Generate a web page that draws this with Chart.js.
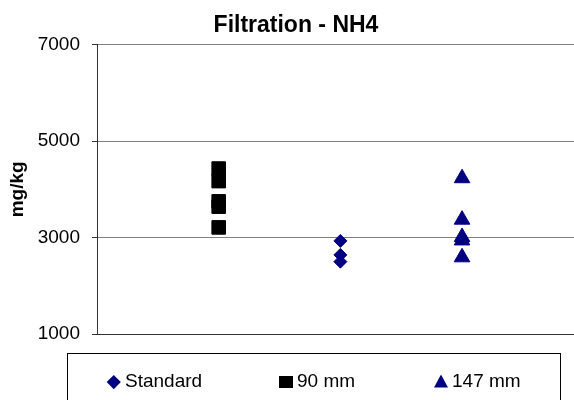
<!DOCTYPE html>
<html>
<head>
<meta charset="utf-8">
<script src="https://cdn.jsdelivr.net/npm/chart.js@4/dist/chart.umd.min.js"></script>
<style>
  body { margin: 0; background: #fff; }
  #wrap { position: relative; width: 574px; height: 400px; overflow: hidden; background: #fff; }
  #chart { position: absolute; left: 0; top: 0; }
  #legend {
    position: absolute; left: 67px; top: 353px; width: 494px; height: 80px;
    border: 1px solid #000; box-sizing: border-box;
    font-family: "Liberation Sans", Arial, sans-serif; font-size: 19px; color: #000;
  }
  .item { position: absolute; top: 16px; line-height: 22px; white-space: nowrap; }
  .mk { position: absolute; display: block; }
  .mk.diamond { width: 9.5px; height: 9.5px; transform: rotate(45deg); left: -16.5px; top: 6.5px; }
  .mk.square { width: 14px; height: 12.5px; left: -18px; top: 5.5px; }
  .mk.triangle { width: 14px; height: 13px; left: -18px; top: 4.5px; clip-path: polygon(50% 0, 100% 100%, 0 100%); }
</style>
</head>
<body>
<div id="wrap">
  <canvas id="chart" width="574" height="400"></canvas>
  <div id="legend"></div>
</div>
<script>
// Filtration - NH4 (mg/kg)

const SERIES   = ["Standard", "90 mm", "147 mm"];
const X_POS    = [2, 1, 3];          // position of each series along the (hidden) x axis
const Y_TICKS  = [1000, 3000, 5000, 7000];

const standard = [2930, 2640, 2500];
const mm90     = [4430, 4170, 3750, 3640, 3210];
const mm147    = [4230, 3370, 3010, 2940, 2590];

const NAVY = "#000080";
const STYLES = [
  { color: NAVY,   pointStyle: "rectRot",  radius: 6.5, legend: "diamond",  left: 57 },
  { color: "#000", pointStyle: "rect",     radius: 9.6, legend: "square",   left: 229 },
  { color: NAVY,   pointStyle: "triangle", radius: 9,   legend: "triangle", left: 384 },
];

Chart.defaults.font.family = '"Liberation Sans", Arial, sans-serif';
Chart.defaults.color = "#000";

const values = [standard, mm90, mm147];
const datasets = SERIES.map((name, i) => ({
  label: name,
  data: values[i].map(v => ({ x: X_POS[i], y: v })),
  pointStyle: STYLES[i].pointStyle,
  pointRadius: STYLES[i].radius,
  backgroundColor: STYLES[i].color,
  borderColor: STYLES[i].color,
  borderWidth: 1,
}));

new Chart(document.getElementById("chart"), {
  type: "scatter",
  data: { datasets },
  options: {
    responsive: false,
    animation: false,
    devicePixelRatio: 1,
    layout: { autoPadding: false, padding: { left: 18, right: 0, top: 0, bottom: 66 } },
    plugins: {
      legend: { display: false },
      tooltip: { enabled: false },
      title: {
        display: true,
        text: "Filtration - NH4",
        font: { size: 23, weight: "bold" },
        color: "#000",
        padding: { top: 12, bottom: 5 },
      },
    },
    scales: {
      x: {
        type: "linear",
        min: 0, max: 3.92,
        ticks: { display: false },
        grid: { display: false },
        border: { display: true, color: "#333", width: 1 },
        afterFit: s => { s.height = 0; },
      },
      y: {
        min: 1000, max: 7000,
        afterBuildTicks: s => { s.ticks = Y_TICKS.map(v => ({ value: v })); },
        ticks: { font: { size: 19 }, color: "#000", padding: 12, callback: v => String(v) },
        grid: { color: "#808080", tickColor: "#333", tickLength: 5, lineWidth: 1 },
        border: { display: true, color: "#333", width: 1 },
        title: {
          display: true, text: "mg/kg", color: "#000",
          font: { size: 19, weight: "bold" },
          padding: { top: -12, bottom: 0 },
        },
        afterFit: s => { s.width = 79; },
      },
    },
  },
});

// légende HTML encadrée
const legend = document.getElementById("legend");
legend.innerHTML = SERIES.map((name, i) => `
  <div class="item" style="left:${STYLES[i].left}px">
    <span class="mk ${STYLES[i].legend}" style="background:${STYLES[i].color}"></span>${name}
  </div>`).join("");
</script>
</body>
</html>
